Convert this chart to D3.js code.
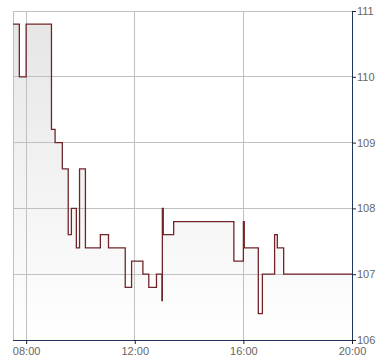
<!DOCTYPE html>
<html>
<head>
<meta charset="utf-8">
<script src="https://cdn.jsdelivr.net/npm/d3@7"></script>
<style>
  body { margin: 0; background: #fff; }
  svg text { font-family: "Liberation Sans", Arial, sans-serif; font-size: 11px; fill: #666; }
</style>
</head>
<body>
<svg id="chart" width="390" height="364"></svg>
<script>
// step series, value holds from each time until the next
var times = ["07:31","07:45","08:00","08:56","09:04","09:20","09:33","09:40","09:51","09:58",
             "10:11","10:44","11:02","11:39","11:53","12:18","12:31","12:48","13:00","13:01",
             "13:03","13:26","15:39","16:00","16:02","16:33","16:42","17:09","17:15","17:29","20:00"];
var values = [110.8,110.0,110.8,109.2,109.0,108.6,107.6,108.0,107.4,108.6,
              107.4,107.6,107.4,106.8,107.2,107.0,106.8,107.0,106.6,108.0,
              107.6,107.8,107.2,107.8,107.4,106.4,107.0,107.6,107.4,107.0,107.0];
var xTicks = ["08:00","12:00","16:00","20:00"];
var yTicks = [106,107,108,109,110,111];

var parse = d3.timeParse("%H:%M");
var data = times.map(function (t, i) { return { t: parse(t), v: values[i] }; });

var m = { left: 13, top: 11, right: 352, bottom: 340 };
var svg = d3.select('#chart');

var x = d3.scaleTime().domain([data[0].t, data[data.length - 1].t]).range([m.left, m.right]);
var y = d3.scaleLinear().domain([106, 111]).range([m.bottom, m.top]);

var grad = svg.append('defs').append('linearGradient')
    .attr('id', 'fillGrad').attr('x1', 0).attr('y1', 0).attr('x2', 0).attr('y2', 1);
grad.append('stop').attr('offset', '0%').attr('stop-color', '#e6e6e6');
grad.append('stop').attr('offset', '100%').attr('stop-color', '#ffffff');

var area = d3.area().curve(d3.curveStepAfter)
    .x(function (d) { return x(d.t); })
    .y0(m.bottom)
    .y1(function (d) { return y(d.v); });
svg.append('path').datum(data)
    .attr('d', area)
    .attr('fill', 'url(#fillGrad)');

// grid
var grid = svg.append('g').attr('stroke', '#c0c0c0').attr('stroke-width', 1).attr('shape-rendering', 'crispEdges');
yTicks.forEach(function (v) {
    grid.append('line').attr('x1', m.left).attr('x2', m.right).attr('y1', y(v)).attr('y2', y(v));
});
xTicks.forEach(function (t) {
    grid.append('line').attr('x1', x(parse(t))).attr('x2', x(parse(t))).attr('y1', m.top).attr('y2', m.bottom);
});
grid.append('line').attr('x1', m.left).attr('x2', m.left).attr('y1', m.top).attr('y2', m.bottom);

var line = d3.line().curve(d3.curveStepAfter)
    .x(function (d) { return x(d.t); })
    .y(function (d) { return y(d.v); });
svg.append('path').datum(data)
    .attr('d', line)
    .attr('fill', 'none')
    .attr('stroke', '#722528')
    .attr('stroke-width', 1.3);

// axes
var xAxis = d3.axisBottom(x).tickValues(xTicks.map(parse)).tickFormat(d3.timeFormat('%H:%M')).tickSize(4).tickPadding(3);
var gx = svg.append('g').attr('transform', 'translate(0,' + m.bottom + ')').call(xAxis);
gx.select('.domain').attr('stroke', '#1c3560').attr('d', 'M' + m.left + ',0.5H' + m.right);
gx.selectAll('.tick line').attr('stroke', '#222');
gx.selectAll('text').attr('fill', '#666').style('font-size', '11px').attr('font-family', null);

var yAxis = d3.axisRight(y).tickValues(yTicks).tickFormat(d3.format('d')).tickSize(4).tickPadding(1);
var gy = svg.append('g').attr('transform', 'translate(' + m.right + ',0)').call(yAxis);
gy.select('.domain').attr('stroke', '#1c3560').attr('d', 'M0.5,' + m.top + 'V' + m.bottom);
gy.selectAll('.tick line').attr('stroke', '#222');
gy.selectAll('text').attr('fill', '#666').style('font-size', '11px').attr('font-family', null);
</script>
</body>
</html>
